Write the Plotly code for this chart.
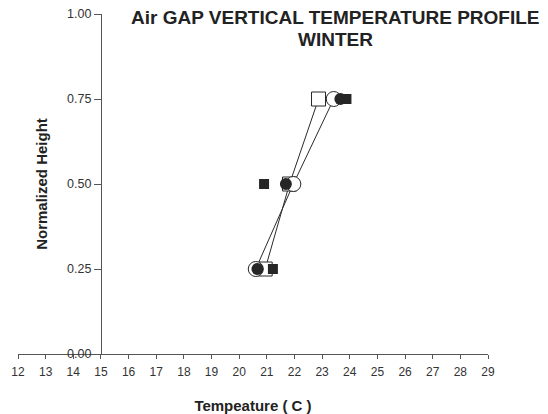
import plotly.graph_objects as go

# ---- data ----
heights = [0.25, 0.50, 0.75]
temp_open_square = [20.94, 21.82, 22.87]
temp_open_circle = [20.60, 21.96, 23.42]
temp_filled_circle = [20.66, 21.69, 23.66]
temp_filled_square = [21.22, 20.90, 23.88]

x_ticks = list(range(12, 30))
y_ticks = [0.0, 0.25, 0.50, 0.75, 1.0]

title_lines = ["Air GAP VERTICAL TEMPERATURE PROFILE", "WINTER"]
x_title = "Tempeature ( C )"
y_title = "Normalized Height"

DARK = "#262626"
FONT = "Liberation Sans, Arial, sans-serif"

fig = go.Figure()

fig.add_trace(go.Scatter(
    x=temp_open_square, y=heights, mode="lines+markers", name="Series A",
    line=dict(color="#2a2a2a", width=1),
    marker=dict(symbol="square", size=14, color="white",
                line=dict(color=DARK, width=1)),
))
fig.add_trace(go.Scatter(
    x=temp_open_circle, y=heights, mode="lines+markers", name="Series B",
    line=dict(color="#2a2a2a", width=1),
    marker=dict(symbol="circle", size=15, color="white",
                line=dict(color=DARK, width=1)),
))
fig.add_trace(go.Scatter(
    x=temp_filled_circle, y=heights, mode="markers", name="Series C",
    marker=dict(symbol="circle", size=12, color=DARK,
                line=dict(color=DARK, width=0)),
))
fig.add_trace(go.Scatter(
    x=temp_filled_square, y=heights, mode="markers", name="Series D",
    marker=dict(symbol="square", size=10, color=DARK,
                line=dict(color=DARK, width=0)),
))

# title lines placed individually (plot area is 340px tall)
title_annotations = [
    dict(text="<b>" + line + "</b>", xref="paper", yref="paper",
         x=0.676, y=yy, xanchor="center", yanchor="middle", showarrow=False,
         font=dict(family=FONT, size=19, color="#222222"))
    for line, yy in zip(title_lines, [(354 - 18) / 340, (354 - 40) / 340])
]

# the page body adds an 8px offset, so the figure is 8px smaller and shifted
fig.update_layout(
    width=540, height=406,
    margin=dict(l=10, r=60, t=6, b=60, autoexpand=False),
    paper_bgcolor="white", plot_bgcolor="white",
    showlegend=False,
    font=dict(family=FONT, color="#333333", size=12),
    xaxis=dict(
        range=[12, 29], tickvals=x_ticks, ticktext=[str(v) for v in x_ticks],
        automargin=False, ticklabeloverflow="allow",
        showgrid=False, zeroline=False,
        showline=True, linecolor="#555555", linewidth=1,
        ticks="outside", ticklen=4, tickcolor="#555555", tickwidth=1,
        ticklabelstandoff=3,
        tickfont=dict(size=12, color="#333333"),
        title=dict(text="<b>" + x_title + "</b>", standoff=22,
                   font=dict(size=15, color="#222222")),
    ),
    yaxis=dict(
        range=[0, 1], tickvals=y_ticks, ticktext=[f"{v:.2f}" for v in y_ticks],
        anchor="free", position=3 / 17,
        automargin=False, ticklabeloverflow="allow",
        showgrid=False, zeroline=False,
        showline=True, linecolor="#555555", linewidth=1,
        ticks="outside", ticklen=7, tickcolor="#555555", tickwidth=1,
        tickfont=dict(size=12.5, color="#333333"),
        title=dict(text="<b>" + y_title + "</b>", standoff=14,
                   font=dict(size=15, color="#222222")),
    ),
    annotations=title_annotations,
)

fig.write_html("out.html")
